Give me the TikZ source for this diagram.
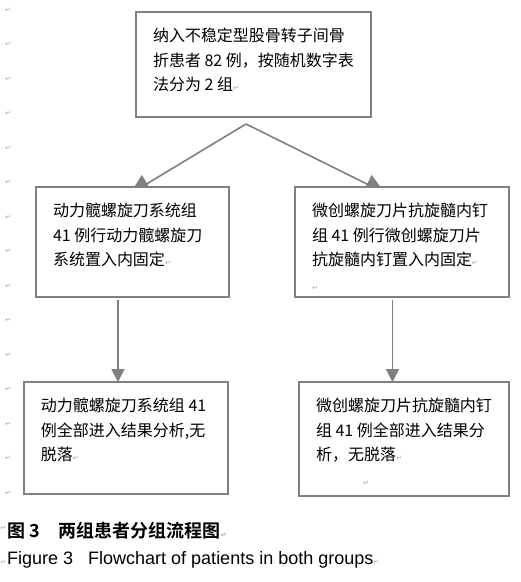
\documentclass[tikz,border=0pt]{standalone}
\usepackage{fontspec}
\setmainfont{Liberation Sans}
\newfontfamily\cjk{Noto Sans CJK SC}[BoldFont={Noto Sans CJK SC Bold}]
\newfontfamily\symfont{DejaVu Sans}
\usetikzlibrary{arrows.meta}
\definecolor{linegray}{RGB}{128,128,128}
\definecolor{markgray}{RGB}{165,165,165}
\newcommand\pmark{{\symfont\fontsize{7pt}{7pt}\selectfont\textcolor{markgray}{↵}}}
\newcommand\flowtext[3]{\parbox[t][#1][t]{#2}{\rule{0pt}{29.5pt}#3}}
\tikzset{
  flowbox/.style={draw=linegray, line width=1.5pt, fill=white, anchor=north west, outer sep=0pt,
    inner xsep=17pt, inner ysep=0pt, font=\cjk\fontsize{16pt}{24.5pt}\selectfont},
  slantarrow/.style={draw=linegray, line width=1.6pt, -{Triangle[length=20pt,width=20pt]}},
  downarrow/.style={draw=linegray, line width=1.6pt, -{Triangle[length=13pt,width=13pt]}},
  marginmark/.style={inner sep=0pt, font=\symfont\fontsize{7pt}{7pt}\selectfont, text=markgray},
  captionline/.style={anchor=base west, inner sep=0pt},
}
\begin{document}
\begin{tikzpicture}[x=1pt,y=-1pt]
\useasboundingbox[fill=white] (0,0) rectangle (521,582);
% paragraph marks down the margin
\foreach \k in {0,...,14}
  \node[marginmark] (mark\k) at (8,{10+34.5*\k}) {↵};
\node[marginmark] (mark15) at (3.5,528) {↵};
\node[marginmark] (mark16) at (3.5,562) {↵};
% split from the first box (heads run under the boxes)
\coordinate (split) at (246,124);
\coordinate (L2tip) at (130,194);
\coordinate (R2tip) at (385,193);
\draw[slantarrow] (split) -- (L2tip);
\draw[slantarrow] (split) -- (R2tip);
% boxes
\node[flowbox] (top) at (136,12) {\flowtext{105pt}{201pt}{纳入不稳定型股骨转子间骨\\折患者~82~例，按随机数字表\\法分为~2~组\pmark}};
\node[flowbox] (L2) at (36,187) {\flowtext{110pt}{159pt}{动力髋螺旋刀系统组\\41~例行动力髋螺旋刀\\系统置入内固定\pmark}};
\node[flowbox] (R2) at (295,187) {\flowtext{110pt}{180pt}{微创螺旋刀片抗旋髓内钉\\组~41~例行微创螺旋刀片\\抗旋髓内钉置入内固定\pmark\\\pmark}};
\node[flowbox] (L3) at (24,382) {\flowtext{112pt}{170pt}{动力髋螺旋刀系统组~41\\例全部进入结果分析,无\\脱落\pmark}};
\node[flowbox] (R3) at (299,382) {\flowtext{114pt}{176pt}{微创螺旋刀片抗旋髓内钉\\组~41~例全部进入结果分\\析，无脱落\pmark\\\hspace*{47pt}\pmark}};
% down arrows
\coordinate (Ldrop) at ([xshift=-14.5pt]L2.south);
\coordinate (Rdrop) at ([xshift=-9.5pt]R2.south);
\draw[downarrow] ([yshift=-3pt]Ldrop) -- (Ldrop |- L3.north);
\draw[downarrow] ([yshift=-3pt]Rdrop) -- (Rdrop |- R3.north);
% caption
\node[captionline, font=\cjk\bfseries\fontsize{18pt}{18pt}\selectfont] (capcn) at (7,537) {图~3\hspace{19pt}两组患者分组流程图\pmark};
\node[captionline, font=\fontsize{18pt}{18pt}\selectfont] (capen) at (7,564) {Figure 3\hspace{15pt}Flowchart of patients in both groups\pmark};
\end{tikzpicture}
\end{document}
